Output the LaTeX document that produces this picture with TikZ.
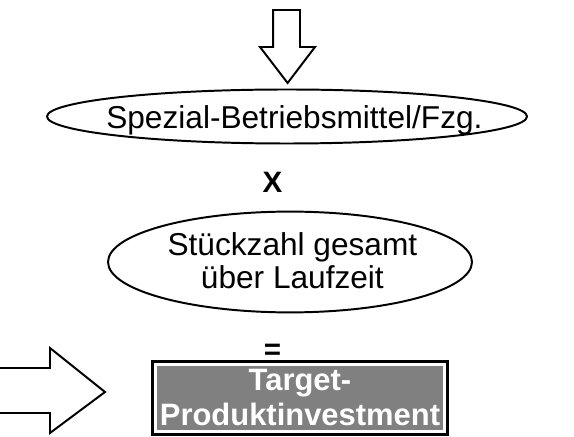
\documentclass[tikz,border=0pt]{standalone}
\usepackage{fontspec}
\setmainfont{Liberation Sans}
\definecolor{boxgrau}{RGB}{128,128,128}
\begin{document}
\begin{tikzpicture}
	\useasboundingbox (0,0) rectangle (14.35,-10.925);
	% Blockpfeil nach unten
	\draw[line width=1.4pt,line join=miter] (6.83,-0.25) -- (7.5,-0.25) -- (7.5,-1.175) -- (7.875,-1.175) -- (7.19,-2.075) -- (6.5,-1.175) -- (6.83,-1.175) -- cycle;
	\draw[line width=1.4pt] (7.175,-2.9125) ellipse [x radius=6,y radius=0.675];
	\node[anchor=base,inner sep=0pt,font=\fontsize{22.5}{23.5}\selectfont] (mittel) at (7.36,-3.225) {Spezial-Betriebsmittel/Fzg.};
	\node[inner sep=0pt,font=\bfseries\fontsize{21}{24}\selectfont] (mal) at (6.81,-4.5625) {X};
	\draw[line width=1.4pt] (7.25,-6.55) ellipse [x radius=4.55,y radius=1.26];
	\node[inner sep=0pt,align=center,font=\fontsize{22.5}{23.5}\selectfont] (stueck) at (7.31,-6.51) {St\"uckzahl gesamt\\\"uber Laufzeit};
	\node[anchor=base,inner sep=0pt,font=\bfseries\fontsize{21}{24}\selectfont] (gleich) at (6.81,-8.99) {=};
	% Ergebnis
	\node[fill=boxgrau,draw=white,line width=1.2pt,text=white,align=center,inner sep=0pt,minimum width=7.2cm,minimum height=1.65cm,font=\bfseries\fontsize{22}{24.9}\selectfont] (invest) at (7.5,-9.95) {Target-\\Produktinvestment};
	\draw[line width=2.1pt] ([shift={(-1.65pt,1.65pt)}]invest.north west) rectangle ([shift={(1.65pt,-1.65pt)}]invest.south east);
	% Blockpfeil von links
	\draw[line width=1.4pt,line join=miter] (0,-9.2) -- (1.25,-9.2) -- (1.25,-8.7) -- (2.625,-9.8) -- (1.25,-10.825) -- (1.25,-10.325) -- (0,-10.325);
\end{tikzpicture}
\end{document}
